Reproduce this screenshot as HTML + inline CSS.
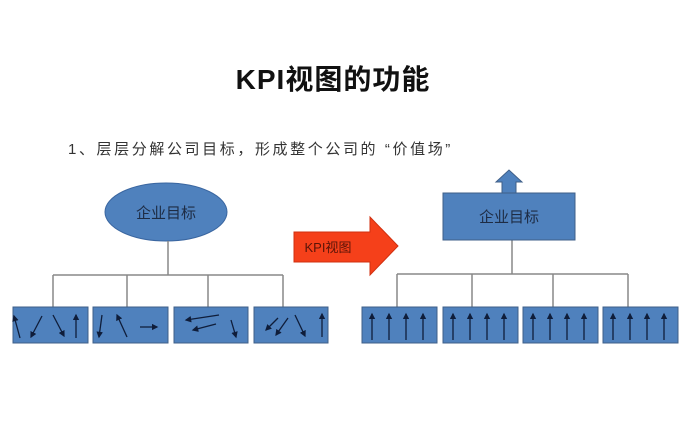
<!DOCTYPE html>
<html><head><meta charset="utf-8"><style>
html,body{margin:0;padding:0;background:#fff;}
svg{display:block;}
text{font-family:"Liberation Sans","Noto Sans CJK SC",sans-serif;}
</style></head><body>
<svg width="682" height="441" viewBox="0 0 682 441" xmlns="http://www.w3.org/2000/svg">
<defs>
<marker id="a" viewBox="0 0 10 10" refX="8" refY="5" markerWidth="5" markerHeight="5" orient="auto"><path d="M0,0 L10,5 L0,10 z" fill="#0f1d3a"/></marker>
</defs>
<text x="333" y="89" font-size="28" font-weight="bold" letter-spacing="1" text-anchor="middle" fill="#111">KPI视图的功能</text>
<text x="68" y="154" font-size="15" letter-spacing="2.6" fill="#333">1、层层分解公司目标，形成整个公司的 “价值场”</text>

<ellipse cx="166" cy="212" rx="61" ry="29" fill="#4f81bd" stroke="#3a66a0"/>
<text x="166" y="218" font-size="15" text-anchor="middle" fill="#1e2c44">企业目标</text>
<g stroke="#888" stroke-width="1.5" fill="none">
<path d="M168 241V275M53 275H283M53 275V307M127 275V307M208 275V307M283 275V307"/>
<path d="M512 240V274M397 274H628M397 274V307M472 274V307M553 274V307M628 274V307"/>
</g>
<g fill="#4f81bd" stroke="#3f5f88" stroke-width="1">
<rect x="13" y="307" width="75" height="36"/><rect x="93" y="307" width="75" height="36"/>
<rect x="174" y="307" width="74" height="36"/><rect x="254" y="307" width="74" height="36"/>
<rect x="362" y="307" width="75" height="36"/><rect x="443" y="307" width="75" height="36"/>
<rect x="523" y="307" width="75" height="36"/><rect x="603" y="307" width="75" height="36"/>
<rect x="443" y="193" width="132" height="47"/>
</g>
<g stroke="#0f1d3a" stroke-width="1.3" marker-end="url(#a)">
<line x1="20" y1="338" x2="14" y2="316"/><line x1="42" y1="316" x2="31" y2="337"/>
<line x1="53" y1="315" x2="64" y2="336"/><line x1="76" y1="338" x2="76" y2="315"/>
<line x1="102" y1="315" x2="99" y2="337"/><line x1="127" y1="337" x2="117" y2="315"/>
<line x1="140" y1="327" x2="157" y2="327"/>
<line x1="219" y1="315" x2="186" y2="320"/><line x1="216" y1="324" x2="193" y2="330"/>
<line x1="231" y1="320" x2="236" y2="337"/>
<line x1="278" y1="318" x2="266" y2="330"/><line x1="288" y1="318" x2="276" y2="335"/>
<line x1="295" y1="315" x2="305" y2="336"/><line x1="322" y1="337" x2="322" y2="314"/>
</g>
<g stroke="#0f1d3a" stroke-width="1.3" marker-end="url(#a)">
<line x1="372" y1="340" x2="372" y2="314"/><line x1="389" y1="340" x2="389" y2="314"/><line x1="406" y1="340" x2="406" y2="314"/><line x1="423" y1="340" x2="423" y2="314"/>
<line x1="453" y1="340" x2="453" y2="314"/><line x1="470" y1="340" x2="470" y2="314"/><line x1="487" y1="340" x2="487" y2="314"/><line x1="504" y1="340" x2="504" y2="314"/>
<line x1="533" y1="340" x2="533" y2="314"/><line x1="550" y1="340" x2="550" y2="314"/><line x1="567" y1="340" x2="567" y2="314"/><line x1="584" y1="340" x2="584" y2="314"/>
<line x1="613" y1="340" x2="613" y2="314"/><line x1="630" y1="340" x2="630" y2="314"/><line x1="647" y1="340" x2="647" y2="314"/><line x1="664" y1="340" x2="664" y2="314"/>
</g>
<text x="509" y="222" font-size="15" text-anchor="middle" fill="#1e2c44">企业目标</text>
<path d="M502 193V182H496L509 170L522 182H516V193Z" fill="#4f81bd" stroke="#3f5f88"/>
<path d="M294 232H370V217L398 246L370 275V262H294Z" fill="#f5401a" stroke="#d03010"/>
<text x="328" y="252" font-size="13" text-anchor="middle" fill="#5a1408">KPI视图</text>
</svg>
</body></html>
